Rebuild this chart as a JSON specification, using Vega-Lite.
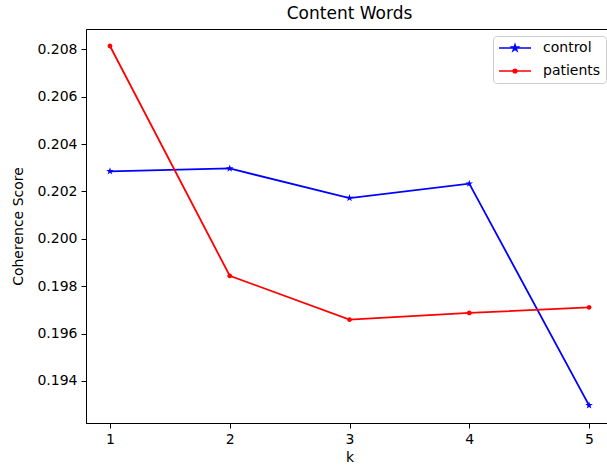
{
  "$schema": "https://vega.github.io/schema/vega-lite/v6.json",
  "width": 527,
  "height": 394,
  "autosize": {"type": "none"},
  "padding": {"left": 86, "top": 29, "right": 0, "bottom": 46},
  "background": "white",
  "title": {"text": "Content Words", "font": "DejaVu Sans", "fontSize": 17, "fontWeight": "normal", "color": "black", "offset": 6, "anchor": "middle"},
  "config": {
    "view": {"stroke": "black", "strokeWidth": 1},
    "axis": {"grid": false, "domainColor": "black", "tickColor": "black", "tickSize": 5, "labelPadding": 4, "labelFont": "DejaVu Sans", "labelFontSize": 14, "labelColor": "black", "titleFont": "DejaVu Sans", "titleFontSize": 14, "titleFontWeight": "normal", "titleColor": "black"}
  },
  "data": {"values": [
    {"k": 1, "score": 0.20285, "group": "control"},
    {"k": 2, "score": 0.20297, "group": "control"},
    {"k": 3, "score": 0.20172, "group": "control"},
    {"k": 4, "score": 0.20233, "group": "control"},
    {"k": 5, "score": 0.19297, "group": "control"},
    {"k": 1, "score": 0.20814, "group": "patients"},
    {"k": 2, "score": 0.19844, "group": "patients"},
    {"k": 3, "score": 0.19659, "group": "patients"},
    {"k": 4, "score": 0.19687, "group": "patients"},
    {"k": 5, "score": 0.19711, "group": "patients"}
  ]},
  "encoding": {
    "x": {"field": "k", "type": "quantitative", "title": "k", "scale": {"domain": [0.8, 5.2], "nice": false, "zero": false}, "axis": {"values": [1, 2, 3, 4, 5], "format": "d", "titlePadding": 4, "labelFlush": false}},
    "y": {"field": "score", "type": "quantitative", "title": "Coherence Score", "scale": {"domain": [0.192225, 0.208858], "nice": false, "zero": false}, "axis": {"values": [0.194, 0.196, 0.198, 0.2, 0.202, 0.204, 0.206, 0.208], "format": ".3f", "titlePadding": 11, "labelFlush": false}}
  },
  "resolve": {"scale": {"shape": "independent", "color": "independent", "fill": "independent"}, "legend": {"color": "independent", "shape": "independent", "fill": "independent"}},
  "layer": [
    {
      "mark": {"type": "line", "strokeWidth": 1.8},
      "encoding": {
        "color": {"field": "group", "type": "nominal", "legend": null, "scale": {"domain": ["control", "patients"], "range": ["#0000ff", "#ff0000"]}}
      }
    },
    {
      "mark": {"type": "point", "filled": true, "opacity": 1, "size": 64},
      "encoding": {
        "color": {"field": "group", "type": "nominal", "legend": null, "scale": {"domain": ["control", "patients"], "range": ["#0000ff", "#ff0000"]}},
        "shape": {"field": "group", "type": "nominal", "legend": null, "scale": {"domain": ["control", "patients"], "range": ["M0,-1L0.225,-0.309L0.951,-0.309L0.363,0.118L0.588,0.809L0,0.382L-0.588,0.809L-0.363,0.118L-0.951,-0.309L-0.225,-0.309Z", "M0.6,0A0.6,0.6 0 1,1 -0.6,0A0.6,0.6 0 1,1 0.6,0Z"]}}
      }
    },
    {
      "transform": [{"filter": "false"}],
      "mark": {"type": "point", "filled": false, "opacity": 1, "size": 64, "strokeWidth": 1.8},
      "encoding": {
        "color": {"field": "group", "type": "nominal", "scale": {"domain": ["control", "patients"], "range": ["#0000ff", "#ff0000"]},
          "legend": {"title": null, "orient": "none", "legendX": 407, "legendY": 7, "padding": 5, "fillColor": "white", "strokeColor": "#cccccc", "cornerRadius": 3, "labelFont": "DejaVu Sans", "labelFontSize": 14, "labelColor": "black", "symbolSize": 64, "symbolOffset": 10, "labelOffset": 21, "rowPadding": 9, "symbolStrokeWidth": 1.6}},
        "fill": {"field": "group", "type": "nominal", "scale": {"domain": ["control", "patients"], "range": ["#0000ff", "#ff0000"]},
          "legend": {"title": null, "orient": "none", "legendX": 407, "legendY": 7, "padding": 5, "fillColor": "white", "strokeColor": "#cccccc", "cornerRadius": 3, "labelFont": "DejaVu Sans", "labelFontSize": 14, "labelColor": "black", "symbolSize": 64, "symbolOffset": 10, "labelOffset": 21, "rowPadding": 9, "symbolStrokeWidth": 1.6}},
        "shape": {"field": "group", "type": "nominal", "scale": {"domain": ["control", "patients"], "range": ["M-4,0H4M0,-0.8L0.18,-0.247L0.761,-0.247L0.29,0.094L0.47,0.647L0,0.306L-0.47,0.647L-0.29,0.094L-0.761,-0.247L-0.18,-0.247Z", "M-4,0H4M0.45,0A0.45,0.45 0 1,1 -0.45,0A0.45,0.45 0 1,1 0.45,0Z"]},
          "legend": {"title": null, "orient": "none", "legendX": 407, "legendY": 7, "padding": 5, "fillColor": "white", "strokeColor": "#cccccc", "cornerRadius": 3, "labelFont": "DejaVu Sans", "labelFontSize": 14, "labelColor": "black", "symbolSize": 64, "symbolOffset": 10, "labelOffset": 21, "rowPadding": 9, "symbolStrokeWidth": 1.6}}
      }
    }
  ]
}
